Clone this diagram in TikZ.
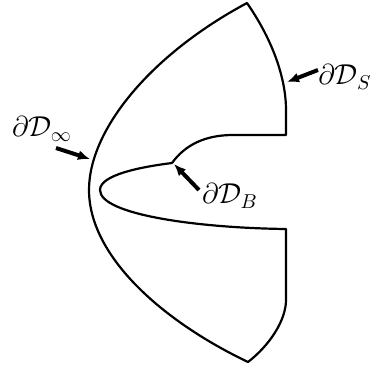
\documentclass[tikz,border=0pt]{standalone}
\usepackage{tikz}
\usetikzlibrary{arrows.meta}

\begin{document}
\begin{tikzpicture}[
  x=0.5pt,y=-0.5pt,
  rim/.style={draw=black,line width=1.1pt,line join=round},
  lbl/.style={font=\fontsize{14.5}{17}\selectfont,inner sep=1pt},
  ptr/.style={-{Latex[length=6pt,width=5pt]},line width=2pt,draw=black},
]
\useasboundingbox (0,0) rectangle (371,366);

% Outline of the notched region
\draw[rim] (247,3) .. controls (274,42) and (286,80) .. (286,110)
  -- (286,135) -- (233,135)
  .. controls (205,135) and (185,145) .. (172,163)
  .. controls (140,167) and (100,175) .. (100,190)
  .. controls (100,215) and (200,228) .. (286,229)
  -- (286,300) .. controls (286,320) and (270,345) .. (248,362)
  .. controls (160,320) and (89,255) .. (89,190)
  .. controls (89,130) and (150,55) .. cycle;

% Boundary labels
\node[lbl] (linf) at (42,129) {$\partial\mathcal{D}_\infty$};
\node[lbl] (ls) at (345,77) {$\partial\mathcal{D}_S$};
\node[lbl] (lb) at (230,196) {$\partial\mathcal{D}_B$};

% Pointer ends
\coordinate (ainf) at (56,148);
\coordinate (binf) at (90,159);
\coordinate (as) at (318,70);
\coordinate (bs) at (287,82);
\coordinate (ab) at (199,190);
\coordinate (bb) at (174,164);

\draw[ptr] (ainf) -- (binf);
\draw[ptr] (as) -- (bs);
\draw[ptr] (ab) -- (bb);

\end{tikzpicture}
\end{document}
